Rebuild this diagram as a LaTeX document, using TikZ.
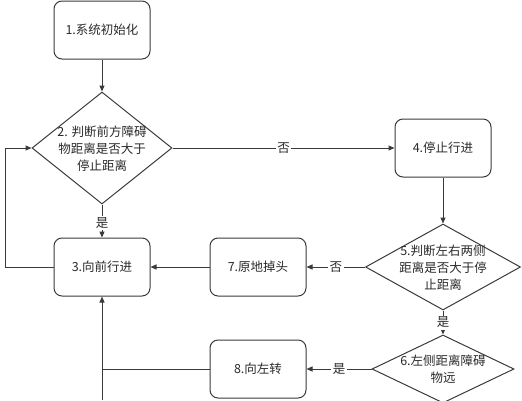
\documentclass[tikz,border=0pt]{standalone}
\usepackage{fontspec}
\newfontfamily\cjk{Noto Sans CJK SC}
\usetikzlibrary{shapes.geometric,arrows.meta}
\definecolor{ln}{HTML}{3A3A3A}
\definecolor{tx}{HTML}{2A2A2A}
\tikzset{
  box/.style={draw=ln, line width=1pt, rounded corners=8pt, minimum width=96pt, minimum height=58pt, inner sep=0pt, font=\cjk\fontsize{12.5}{17}\selectfont, text=tx},
  dia/.style={draw=ln, line width=1pt, diamond, inner sep=0pt},
  dtext/.style={align=center, font=\cjk\fontsize{12.5}{17}\selectfont, text=tx, inner sep=0pt},
  arr/.style={draw=ln, line width=1pt, -{Triangle[length=6pt,width=5pt]}},
  lnk/.style={draw=ln, line width=1pt},
  lab/.style={fill=white, inner sep=1.5pt, font=\cjk\fontsize{12.5}{14}\selectfont, text=tx}
}
\begin{document}
\begin{tikzpicture}[x=1pt,y=-1pt]
\useasboundingbox (0,0) rectangle (522,400);
\node[box] (n1) at (102,30) {1.系统初始化};
\node[dia, minimum width=140pt, minimum height=112pt] (d2) at (102,148) {};
\node[dtext] at (102,149) {2. 判断前方障碍\\物距离是否大于\\停止距离};
\node[box] (n3) at (102,267) {3.向前行进};
\node[box] (n4) at (443,148) {4.停止行进};
\node[dia, minimum width=155pt, minimum height=86pt] (d5) at (443,267) {};
\node[dtext] at (443,268) {5.判断左右两侧\\距离是否大于停\\止距离};
\node[box] (n7) at (258,267) {7.原地掉头};
\node[dia, minimum width=142pt, minimum height=68pt] (d6) at (443,369) {};
\node[dtext] at (443,369) {6.左侧距离障碍\\物远};
\node[box] (n8) at (258,369) {8.向左转};
\coordinate (lp1) at (5,267);
\coordinate (lp2) at (5,148);
\coordinate (bot) at (102,400);

\draw[arr] (n1) -- (d2.north);
\draw[arr] (d2.south) -- node[lab, pos=0.55] {是} (n3.north);
\draw[arr] (n3.west) -- (lp1) -- (lp2) -- (d2.west);
\draw[arr] (d2.east) -- node[lab, pos=0.5] {否} (n4.west);
\draw[arr] (n4.south) -- (d5.north);
\draw[arr] (d5.west) -- node[lab, pos=0.5] {否} (n7.east);
\draw[arr] (n7.west) -- (n3.east);
\draw[arr] (d5.south) -- node[lab, pos=0.5] {是} (d6.north);
\draw[arr] (d6.west) -- node[lab, pos=0.5] {是} (n8.east);
\draw[arr] (bot) -- (n3.south);
\draw[lnk] (n8.west) -- (n8.west -| n3.south);
\end{tikzpicture}
\end{document}
